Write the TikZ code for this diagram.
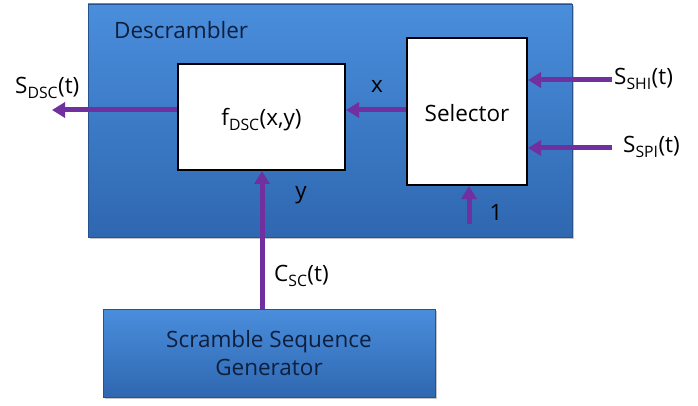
\documentclass[tikz,border=0pt]{standalone}
\usepackage{fontspec}
\setmainfont{Open Sans}
\usetikzlibrary{arrows.meta,shadows}
\definecolor{boxtop}{HTML}{4A8EDC}
\definecolor{boxbot}{HTML}{2F67B0}
\definecolor{navy}{HTML}{0E1F3E}
\definecolor{arrpurple}{HTML}{7030A0}
\tikzset{
  bluebox/.style={draw=boxbot!80!black, line width=0.8pt, top color=boxtop, bottom color=boxbot,
    drop shadow={opacity=0.45, shadow xshift=2pt, shadow yshift=-2pt}, inner sep=0pt, text=navy},
  whitebox/.style={draw=black, line width=2pt, fill=white, inner sep=0pt},
  arr/.style={draw=arrpurple, line width=5pt, -{Triangle[length=13pt,width=15pt]}},
  lbl/.style={font=\fontsize{22.5}{26}\selectfont, inner sep=0pt},
}
\begin{document}
\begin{tikzpicture}[x=1pt,y=1pt]
\useasboundingbox[fill=white] (0,0) rectangle (698,-406);
\node[bluebox, minimum width=484pt, minimum height=233pt] (desc) at (330,-120.5) {};
\node[lbl, text=navy, anchor=west] (desctitle) at (114,-30) {Descrambler};
\node[whitebox, minimum width=167pt, minimum height=106pt] (fdsc) at (261.5,-117) {};
\node[lbl, anchor=center] (fdsctxt) at (261.5,-120) {f\textsubscript{DSC}(x,y)};
\node[whitebox, minimum width=120pt, minimum height=147pt] (sel) at (467,-111.5) {};
\node[lbl] (seltxt) at (467,-113) {Selector};
\node[bluebox, minimum width=332pt, minimum height=88pt, align=center, lbl, text=navy] (ssg) at (269,-353) {Scramble Sequence\\[2pt]Generator};
% coordinates for free ends
\coordinate (outend) at (52,-110);
\coordinate (shi) at (612,-80);
\coordinate (spi) at (612,-148);
\coordinate (one) at (469,-224);
% connectors
\draw[arr] (fdsc.west|-outend) -- (outend);
\draw[arr] (sel.west|-outend) -- (fdsc.east|-outend);
\draw[arr] (shi) -- (sel.east|-shi);
\draw[arr] (spi) -- (sel.east|-spi);
\draw[arr] (one) -- (one|-sel.south);
\draw[arr] (ssg.north-|262,0) -- (fdsc.south-|262,0);
% labels
\node[lbl, anchor=west] (sdsc) at (15,-88) {S\textsubscript{DSC}(t)};
\node[lbl] (xl) at (377,-86) {x};
\node[lbl] (yl) at (301,-195) {y};
\node[lbl] (onel) at (496,-212) {1};
\node[lbl, anchor=west] (sshi) at (614,-79) {S\textsubscript{SHI}(t)};
\node[lbl, anchor=west] (sspi) at (623,-147) {S\textsubscript{SPI}(t)};
\node[lbl, anchor=west] (csc) at (274,-276) {C\textsubscript{SC}(t)};
\end{tikzpicture}
\end{document}
